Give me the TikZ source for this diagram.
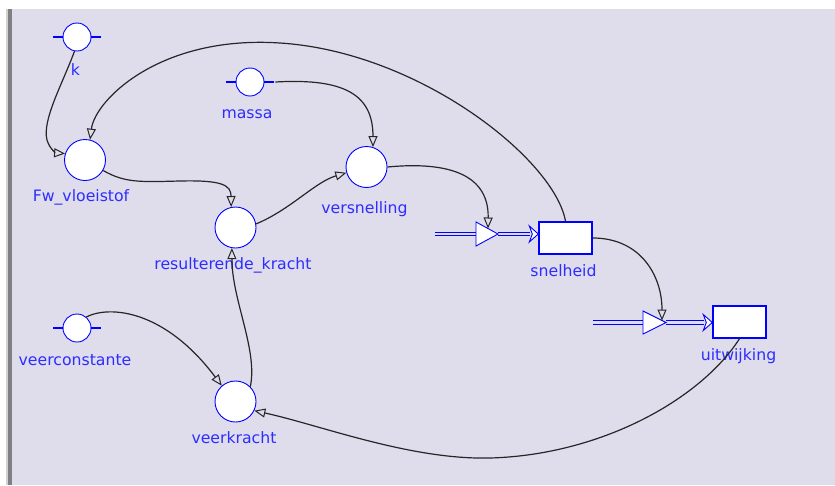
\documentclass[tikz,border=0pt]{standalone}
\usepackage{fontspec}
\setmainfont{DejaVu Sans}
\usetikzlibrary{arrows.meta,calc}
\definecolor{bg}{RGB}{223,221,236}
\definecolor{lblue}{RGB}{45,45,255}
\begin{document}
\begin{tikzpicture}[x=1pt,y=-1pt,
 aux/.style={circle,draw=blue,fill=white,line width=0.9pt,minimum size=41pt,inner sep=0pt},
 const/.style={circle,draw=blue,fill=white,line width=0.9pt,minimum size=28pt,inner sep=0pt},
 stock/.style={rectangle,draw=blue,fill=white,line width=1.4pt,minimum width=53pt,minimum height=32pt,inner sep=0pt},
 lbl/.style={text=lblue,font=\fontsize{15.7pt}{18pt}\selectfont,anchor=base,inner sep=0pt},
 stub/.style={draw=blue,line width=2.8pt},
 conn/.style={draw=black!85,line width=1.2pt,-{Triangle[open,length=11pt,width=9pt,line width=1pt]}},
 flow/.style={draw=blue,line width=0.9pt},
 valve/.style={draw=blue,fill=white,line width=0.9pt,line join=miter}]
% background
\useasboundingbox (0,0) rectangle (835,485);
\fill[white] (0,0) rectangle (835,485);
\fill[bg] (12,9) rectangle (835,485);
\fill[gray!35] (6,9) rectangle (8,485);
\fill[gray] (8,9) rectangle (11.5,485);
% nodes
\node[const] (k) at (77,37) {};
\node[const] (massa) at (250,82) {};
\node[const] (vc) at (77,328) {};
\node[aux] (fw) at (85,160) {};
\node[aux] (res) at (235.5,227.5) {};
\node[aux] (vers) at (366.5,167) {};
\node[aux] (vk) at (235.5,401.5) {};
\node[stock] (snel) at (565.5,238) {};
\node[stock] (uit) at (739.5,322) {};
\coordinate (v1) at (487,234);
\coordinate (v2) at (654.5,322.5);
\coordinate (src1) at (435,234);
\coordinate (src2) at (593,322.5);
% stubs of constants
\foreach \c in {k,massa,vc}{
  \draw[stub] (\c.west) -- ++(-10,0);
  \draw[stub] (\c.east) -- ++(10,0);
}
% flow pipes
\draw[flow] ($(src1)+(0,-1.7)$) -- ($(v1)+(-11,-1.7)$) ($(src1)+(0,1.7)$) -- ($(v1)+(-11,1.7)$);
\draw[flow] ($(v1)+(11,-1.7)$) -- ($(snel.west|-v1)+(-8,-1.7)$) ($(v1)+(11,1.7)$) -- ($(snel.west|-v1)+(-8,1.7)$);
\draw[flow,fill=white] ($(snel.west|-v1)+(-9,-8)$) -- (snel.west|-v1) -- ($(snel.west|-v1)+(-9,8)$) -- ($(snel.west|-v1)+(-6,0)$) -- cycle;
\draw[valve] ($(v1)+(-11,-12)$) -- ($(v1)+(11,0)$) -- ($(v1)+(-11,12)$) -- cycle;
\draw[flow] ($(src2)+(0,-1.7)$) -- ($(v2)+(-11.5,-1.7)$) ($(src2)+(0,1.7)$) -- ($(v2)+(-11.5,1.7)$);
\draw[flow] ($(v2)+(11.5,-1.7)$) -- ($(uit.west|-v2)+(-8,-1.7)$) ($(v2)+(11.5,1.7)$) -- ($(uit.west|-v2)+(-8,1.7)$);
\draw[flow,fill=white] ($(uit.west|-v2)+(-9,-8)$) -- (uit.west|-v2) -- ($(uit.west|-v2)+(-9,8)$) -- ($(uit.west|-v2)+(-6,0)$) -- cycle;
\draw[valve] ($(v2)+(-11.5,-11.5)$) -- ($(v2)+(11.5,0)$) -- ($(v2)+(-11.5,11.5)$) -- cycle;
% labels
\node[lbl] (klbl) at (75.5,75) {k};
\node[lbl] (massalbl) at (247,118) {massa};
\node[lbl] (fwlbl) at (81,201) {Fw\_vloeistof};
\node[lbl] (verslbl) at (364.5,213) {versnelling};
\node[lbl] (reslbl) at (233,269) {resulterende\_kracht};
\node[lbl] (vclbl) at (75,365) {veerconstante};
\node[lbl] (vklbl) at (234,443) {veerkracht};
\node[lbl] (snellbl) at (563.5,276) {snelheid};
\node[lbl] (uitlbl) at (738.5,360) {uitwijking};
% connectors
\draw[conn] (k.-100) .. controls (62,85) and (42,120) .. (47,140) .. controls (50,150) and (57,153) .. (fw.162);
\draw[conn] (snel.north) .. controls (555,160) and (420,52) .. (280,43) .. controls (160,35) and (95,100) .. (fw.76);
\draw[conn] (fw.-30) .. controls (125,183) and (140,182) .. (180,181) .. controls (222,180) and (231,185) .. (res.102);
\draw[conn] ($(massa.east)+(11,0)$) .. controls (345,78) and (373,95) .. (vers.72);
\draw[conn] (res.10) .. controls (290,210) and (315,182) .. (vers.196);
\draw[conn] (vers.east) .. controls (440,162) and (489,170) .. ($(v1)+(1,-5.5)$);
\draw[conn] (snel.east) .. controls (640,238) and (662,275) .. ($(v2)+(7.5,-2)$);
\draw[conn] (vc.50) .. controls (110,305) and (165,310) .. (vk.131);
\draw[conn] (vk.45) .. controls (258,350) and (232,300) .. (res.-100);
\draw[conn] (uit.south) .. controls (700,400) and (600,455) .. (490,458) .. controls (410,460) and (320,425) .. (vk.-26);
\end{tikzpicture}
\end{document}
